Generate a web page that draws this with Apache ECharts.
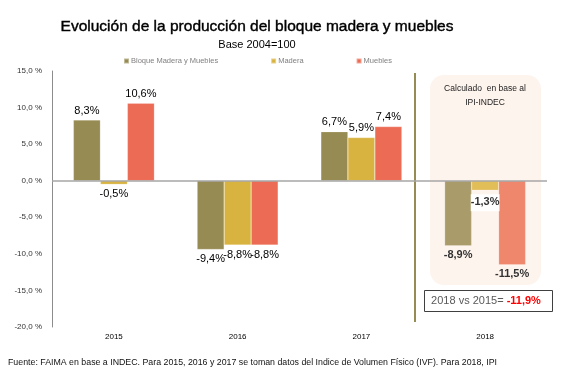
<!DOCTYPE html>
<html>
<head>
<meta charset="utf-8">
<script src="https://cdn.jsdelivr.net/npm/echarts@6/dist/echarts.min.js"></script>
<style>
html, body { margin: 0; padding: 0; background: #fff; }
#main { width: 567px; height: 377px; }
</style>
</head>
<body>
<div id="main"></div>
<script>
// datos
var years = ["2015", "2016", "2017", "2018"];
var bloque = [8.3, -9.4, 6.7, -8.9];
var madera = [-0.5, -8.8, 5.9, -1.3];
var muebles = [10.6, -8.8, 7.4, -11.5];
var seriesNames = ["Bloque Madera y Muebles", "Madera", "Muebles"];

var colores = ["#968b52", "#d8b340", "#ec6b55"];
// 2018 se ve mas claro (estimado IPI)
var coloresClaros = ["#aa9c6a", "#e2be58", "#ef876c"];

function fmt(v) {
  return v.toFixed(1).replace(".", ",") + "%";
}

function armarSerie(name, values, idx) {
  return {
    name: name,
    type: "bar",
    barWidth: 27,
    barGap: 0,
    itemStyle: { color: colores[idx], borderColor: "rgba(255,255,255,0.4)", borderWidth: 0.5 },
    data: values.map(function (v, i) {
      var ultimo = i === years.length - 1;
      var d = {
        value: v,
        label: {
          show: true,
          position: v < 0 ? "bottom" : "top",
          distance: 4,
          formatter: function (p) { return fmt(p.value); },
          fontFamily: "Liberation Sans",
          fontSize: 11,
          color: ultimo ? "#333" : "#000",
          fontWeight: ultimo ? "bold" : "normal"
        }
      };
      if (ultimo) {
        d.itemStyle = { color: coloresClaros[idx] };
        if (idx === 1) {
          d.label.backgroundColor = "#fff";
          d.label.padding = [2, 0, 4, 0];
        }
      }
      return d;
    })
  };
}

var myChart = echarts.init(document.getElementById("main"));

var series = [
  armarSerie(seriesNames[0], bloque, 0),
  armarSerie(seriesNames[1], madera, 1),
  armarSerie(seriesNames[2], muebles, 2)
];
// linea del cero
series[0].markLine = {
  silent: true,
  symbol: "none",
  label: { show: false },
  lineStyle: { color: "#a6a6a6", width: 1.5, type: "solid" },
  data: [{ yAxis: 0 }]
};

myChart.setOption({
  animation: false,
  textStyle: { fontFamily: "Liberation Sans" },
  title: [
    {
      text: "Evolución de la producción del bloque madera y muebles",
      left: 252,
      textAlign: "center",
      top: 14,
      textStyle: { fontSize: 15.5, fontWeight: "normal", color: "#000", textBorderColor: "#000", textBorderWidth: 0.4 }
    },
    {
      text: "Base 2004=100",
      left: 252,
      textAlign: "center",
      top: 34,
      textStyle: { fontSize: 11, fontWeight: "normal", color: "#000" }
    }
  ],
  legend: {
    data: seriesNames,
    left: 118,
    top: 52,
    itemWidth: 5,
    itemHeight: 5,
    itemGap: 52,
    icon: "rect",
    textStyle: { fontSize: 7.5, color: "#808080", padding: [0, 0, 0, -3] }
  },
  grid: { left: 52, right: 20, top: 71, bottom: 50 },
  xAxis: {
    type: "category",
    data: years,
    axisLine: { show: false, onZero: false },
    axisTick: { show: false },
    axisLabel: { fontSize: 8, color: "#000", margin: 6 }
  },
  yAxis: {
    type: "value",
    min: -20,
    max: 15,
    interval: 5,
    axisLine: { show: true, lineStyle: { color: "#8c8c8c", width: 1 } },
    axisTick: { show: false },
    splitLine: { show: false },
    axisLabel: {
      fontSize: 8,
      color: "#333",
      margin: 10,
      formatter: function (v) { return v.toFixed(1).replace(".", ",") + " %"; }
    }
  },
  graphic: [
    {
      type: "rect",
      z: 0,
      shape: { x: 430, y: 75, width: 111, height: 210, r: 14 },
      style: { fill: "#fef4ee" }
    },
    {
      type: "text",
      z: 1,
      x: 485,
      y: 82,
      style: {
        text: "Calculado  en base al\nIPI-INDEC",
        fontSize: 8.5,
        lineHeight: 14,
        align: "center",
        fill: "#222",
        fontFamily: "Liberation Sans"
      }
    },
    {
      type: "line",
      z: 5,
      shape: { x1: 415, y1: 73, x2: 415, y2: 322 },
      style: { stroke: "#968b52", lineWidth: 2 }
    },
    {
      type: "rect",
      z: 5,
      shape: { x: 424.5, y: 290.5, width: 128, height: 21 },
      style: { fill: "#fff", stroke: "#404040", lineWidth: 1 }
    },
    {
      type: "text",
      z: 6,
      x: 486,
      y: 295,
      style: {
        text: "{a|2018 vs 2015= }{b|-11,9%}",
        align: "center",
        fontFamily: "Liberation Sans",
        rich: {
          a: { fontSize: 11, fill: "#595959" },
          b: { fontSize: 11, fill: "#ff0000", fontWeight: "bold" }
        }
      }
    },
    {
      type: "text",
      x: 8,
      y: 358,
      style: {
        text: "Fuente: FAIMA en base a INDEC. Para 2015, 2016 y 2017 se toman datos del Indice de Volumen Físico (IVF). Para 2018, IPI",
        fontSize: 8.8,
        fill: "#111",
        fontFamily: "Liberation Sans"
      }
    }
  ],
  series: series
});
</script>
</body>
</html>
